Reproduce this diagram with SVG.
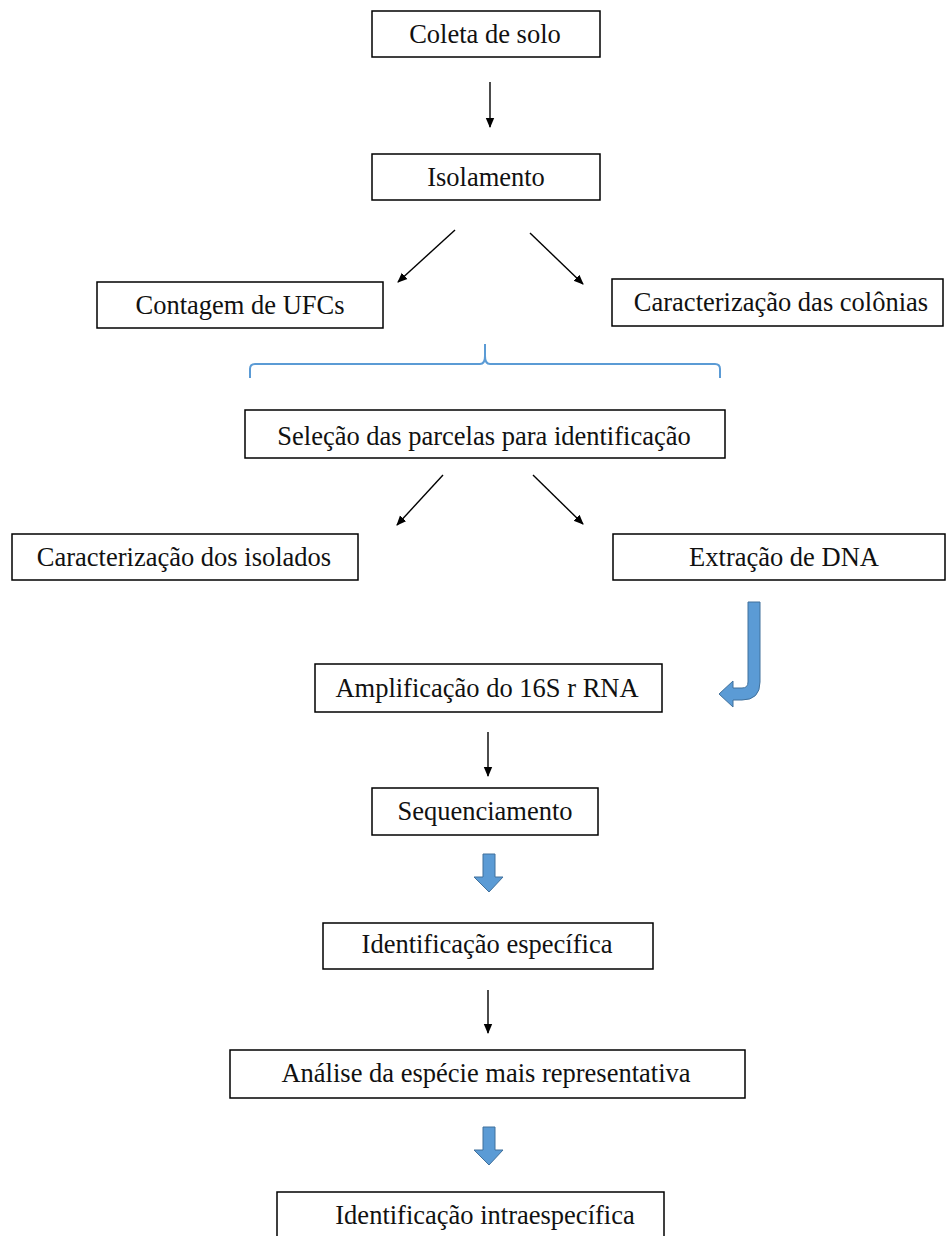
<svg xmlns="http://www.w3.org/2000/svg" width="947" height="1236" viewBox="0 0 947 1236">
<defs>
<marker id="ah" markerWidth="10" markerHeight="10" refX="9" refY="5" orient="auto" markerUnits="userSpaceOnUse">
<path d="M0,0.8 L10,5 L0,9.2 Z" fill="#000"/>
</marker>
<style>
.box{fill:#fff;stroke:#000;stroke-width:1.5}
.t{font-family:"Liberation Serif","Times New Roman",serif;font-size:26.5px;fill:#111;text-anchor:middle}
.ar{stroke:#000;stroke-width:1.4;fill:none;marker-end:url(#ah)}
.blue{fill:#5B9BD5;stroke:#41719C;stroke-width:1}
.brace{fill:none;stroke:#5B9BD5;stroke-width:2}
</style>
</defs>
<rect width="947" height="1236" fill="#fff"/>
<g id="connectors">
<line class="ar" x1="490" y1="82" x2="490" y2="127"/>
<line class="ar" x1="455" y1="230" x2="398" y2="282"/>
<line class="ar" x1="530" y1="233" x2="583" y2="284"/>
<path class="brace" d="M250,378 L250,369 Q250,364 255,364 L480,364 Q485,364 485,356 L485,344 M485,356 Q485,364 490,364 L715,364 Q720,364 720,369 L720,378"/>
<line class="ar" x1="443" y1="475" x2="397" y2="525"/>
<line class="ar" x1="533" y1="475" x2="583" y2="524"/>
<path class="blue" d="M748,602 L760,602 L760,682 Q760,700 742,700 L733,700 L733,707 L719,694 L733,681 L733,688 L742,688 Q748,688 748,682 Z"/>
<line class="ar" x1="488" y1="732" x2="488" y2="776"/>
<path class="blue" d="M483,854 L495,854 L495,877 L503,877 L489,892 L474,877 L483,877 Z"/>
<line class="ar" x1="488" y1="990" x2="488" y2="1033"/>
<path class="blue" d="M483,1127 L495,1127 L495,1150 L503,1150 L489,1165 L474,1150 L483,1150 Z"/>
</g>
<g id="n1"><rect class="box" x="372" y="11" width="228" height="46"/><text class="t" x="485" y="43">Coleta de solo</text></g>
<g id="n2"><rect class="box" x="372" y="154" width="228" height="46"/><text class="t" x="486" y="186">Isolamento</text></g>
<g id="n3"><rect class="box" x="97" y="282" width="286" height="46"/><text class="t" x="240" y="314">Contagem de UFCs</text></g>
<g id="n4"><rect class="box" x="612" y="279" width="331" height="47"/><text class="t" x="781" y="311">Caracterização das colônias</text></g>
<g id="n5"><rect class="box" x="245" y="410" width="480" height="48"/><text class="t" x="484" y="445">Seleção das parcelas para identificação</text></g>
<g id="n6"><rect class="box" x="12" y="534" width="346" height="46"/><text class="t" x="184" y="566">Caracterização dos isolados</text></g>
<g id="n7"><rect class="box" x="613" y="534" width="332" height="46"/><text class="t" x="784" y="566">Extração de DNA</text></g>
<g id="n8"><rect class="box" x="315" y="664" width="347" height="48"/><text class="t" x="487" y="697">Amplificação do 16S r RNA</text></g>
<g id="n9"><rect class="box" x="372" y="788" width="226" height="47"/><text class="t" x="485" y="820">Sequenciamento</text></g>
<g id="n10"><rect class="box" x="323" y="923" width="330" height="46"/><text class="t" x="487" y="953">Identificação específica</text></g>
<g id="n11"><rect class="box" x="230" y="1050" width="515" height="48"/><text class="t" x="486" y="1082">Análise da espécie mais representativa</text></g>
<g id="n12"><rect class="box" x="277" y="1192" width="387" height="50"/><text class="t" x="485" y="1224">Identificação intraespecífica</text></g>
</svg>
